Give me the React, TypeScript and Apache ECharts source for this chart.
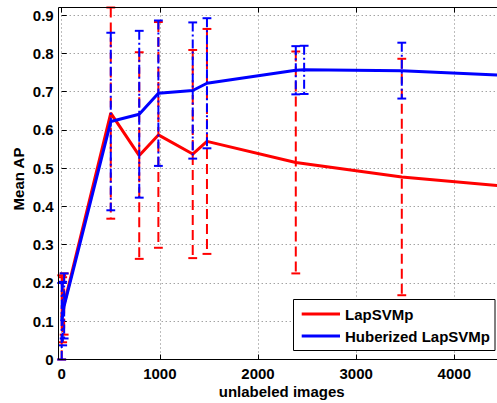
import React, { useEffect, useRef } from "react";
import * as echarts from "echarts";

// Number of unlabeled images used for each run
const lapX = [0, 10, 25, 500, 790, 985, 1335, 1480, 2385, 3465, 4480];
const lapMean = [0.11, 0.13, 0.145, 0.644, 0.533, 0.587, 0.537, 0.57, 0.515, 0.477, 0.454];
const lapErr = [0.11, 0.085, 0.08, 0.276, 0.27, 0.295, 0.272, 0.294, 0.29, 0.309, 0.3];

const hubX = [0, 10, 25, 500, 790, 985, 1335, 1480, 2385, 2470, 3465, 4480];
const hubMean = [0.1, 0.12, 0.14, 0.622, 0.641, 0.696, 0.703, 0.722, 0.756, 0.757, 0.755, 0.743];
const hubErr = [0.1, 0.083, 0.085, 0.232, 0.218, 0.19, 0.178, 0.17, 0.063, 0.063, 0.073, 0.072];

const xTicks = [0, 1000, 2000, 3000, 4000];
const yTicks = [0, 0.1, 0.2, 0.3, 0.4, 0.5, 0.6, 0.7, 0.8, 0.9];

const seriesNames = ["LapSVMp", "Huberized LapSVMp"];

const FONT = "Liberation Sans, Arial, Helvetica, sans-serif";
const RED = "#ff0000";
const BLUE = "#0000ff";

// Visible end of the x range (the axes continue past the right edge)
const X_MAX = 4435;

const errorBarData = (xs: number[], ms: number[], es: number[]) =>
  xs.map((x, i) => [x, ms[i] - es[i], ms[i] + es[i]]);

const lineData = (xs: number[], ms: number[]) => xs.map((x, i) => [x, ms[i]]);

// Vertical error bar with a cap at each end, drawn in data coordinates
const makeErrorRenderer = (color: string, dash: number[]) => (params: any, api: any) => {
  const x = api.value(0);
  const lo = api.value(1);
  const hi = api.value(2);
  const top = api.coord([x, hi]);
  const bot = api.coord([x, lo]);
  const hw = api.size([45, 0])[0];
  const style = { stroke: color, lineWidth: 2, lineDash: dash, fill: null };
  return {
    type: "group",
    children: [
      { type: "line", shape: { x1: top[0], y1: top[1], x2: bot[0], y2: bot[1] }, style },
      { type: "line", shape: { x1: top[0] - hw, y1: top[1], x2: top[0] + hw, y2: top[1] }, style },
      { type: "line", shape: { x1: bot[0] - hw, y1: bot[1], x2: bot[0] + hw, y2: bot[1] }, style },
    ],
  };
};

export default function App() {
  const ref = useRef<HTMLDivElement>(null);

  useEffect(() => {
    document.body.style.margin = "0";
    if (!ref.current) return;
    const chart = echarts.init(ref.current, null, { renderer: "svg" });

    const left = 61.7;
    const top = 7.5;
    const bottom = 43.5;
    const frameLeft = 58.5;
    const frameTop = 7.5;
    const frameBottom = 359.5;

    const labelStyle = { fontFamily: FONT, fontWeight: "bold" as const, fontSize: 15, color: "#000" };

    chart.setOption({
      animation: false,
      backgroundColor: "#fff",
      grid: { left, top, bottom, right: 0, containLabel: false },
      xAxis: [
        {
          type: "value",
          min: 0,
          max: X_MAX,
          interval: 1000,
          position: "bottom",
          axisLine: { show: false },
          axisTick: { show: true, inside: true, length: 5, lineStyle: { color: "#000" } },
          axisLabel: {
            ...labelStyle,
            margin: 6,
            showMaxLabel: false,
            formatter: (v: number) => (xTicks.includes(v) ? String(v) : ""),
          },
          splitLine: { show: true, lineStyle: { color: "#7a7a7a", type: [1, 3], width: 1 } },
        },
        {
          type: "value",
          min: 0,
          max: X_MAX,
          interval: 1000,
          position: "top",
          axisLine: { show: false },
          axisTick: { show: true, inside: true, length: 5, lineStyle: { color: "#000" } },
          axisLabel: { show: false },
          splitLine: { show: false },
        },
      ],
      yAxis: {
        type: "value",
        min: 0,
        max: 0.92,
        interval: 0.1,
        offset: 3,
        axisLine: { show: false },
        axisTick: { show: true, inside: true, length: 5, lineStyle: { color: "#000" } },
        axisLabel: {
          ...labelStyle,
          margin: 5,
          showMaxLabel: false,
          formatter: (v: number) => {
            const t = yTicks.find((y) => Math.abs(y - v) < 1e-6);
            return t === undefined ? "" : t === 0 ? "0" : t.toFixed(1);
          },
        },
        splitLine: { show: true, lineStyle: { color: "#7a7a7a", type: [1, 3], width: 1 } },
      },
      series: [
        {
          name: seriesNames[0] + " error",
          type: "custom",
          xAxisIndex: 0,
          clip: false,
          renderItem: makeErrorRenderer(RED, [10, 5]),
          encode: { x: 0, y: [1, 2] },
          data: errorBarData(lapX, lapMean, lapErr),
          z: 2,
        },
        {
          name: seriesNames[0],
          type: "line",
          xAxisIndex: 0,
          showSymbol: false,
          data: lineData(lapX, lapMean),
          lineStyle: { color: RED, width: 3 },
          itemStyle: { color: RED },
          z: 3,
        },
        {
          name: seriesNames[1] + " error",
          type: "custom",
          xAxisIndex: 0,
          clip: false,
          renderItem: makeErrorRenderer(BLUE, [9, 3, 2, 3]),
          encode: { x: 0, y: [1, 2] },
          data: errorBarData(hubX, hubMean, hubErr),
          z: 4,
        },
        {
          name: seriesNames[1],
          type: "line",
          xAxisIndex: 0,
          showSymbol: false,
          data: lineData(hubX, hubMean),
          lineStyle: { color: BLUE, width: 3 },
          itemStyle: { color: BLUE },
          z: 5,
        },
      ],
      graphic: [
        {
          type: "polyline",
          z: 50,
          silent: true,
          shape: {
            points: [
              [505, frameTop],
              [frameLeft, frameTop],
              [frameLeft, frameBottom],
              [505, frameBottom],
            ],
          },
          style: { stroke: "#000", lineWidth: 1, fill: null },
        },
        {
          type: "text",
          z: 50,
          x: 18,
          y: 179,
          rotation: Math.PI / 2,
          style: {
            text: "Mean AP",
            font: `bold 15px ${FONT}`,
            fill: "#000",
            align: "center",
            verticalAlign: "middle",
          },
        },
        {
          type: "text",
          z: 50,
          x: 281.7,
          y: 391,
          style: {
            text: "unlabeled images",
            font: `bold 15px ${FONT}`,
            fill: "#000",
            align: "center",
            verticalAlign: "middle",
          },
        },
        {
          type: "group",
          z: 60,
          children: [
            {
              type: "rect",
              z: 60,
              shape: { x: 293.5, y: 299.5, width: 201.5, height: 51 },
              style: { fill: "#fff", stroke: "#000", lineWidth: 1 },
            },
            {
              type: "line",
              z: 61,
              shape: { x1: 301.7, y1: 314, x2: 340, y2: 314 },
              style: { stroke: RED, lineWidth: 3 },
            },
            {
              type: "line",
              z: 61,
              shape: { x1: 301.7, y1: 336, x2: 340, y2: 336 },
              style: { stroke: BLUE, lineWidth: 3 },
            },
            {
              type: "text",
              z: 61,
              x: 345,
              y: 314,
              style: {
                text: seriesNames[0],
                font: `bold 15px ${FONT}`,
                fill: "#000",
                verticalAlign: "middle",
              },
            },
            {
              type: "text",
              z: 61,
              x: 345,
              y: 336,
              style: {
                text: seriesNames[1],
                font: `bold 15px ${FONT}`,
                fill: "#000",
                verticalAlign: "middle",
              },
            },
          ],
        },
      ],
    });

    return () => chart.dispose();
  }, []);

  return <div ref={ref} style={{ width: 497, height: 403 }} />;
}
